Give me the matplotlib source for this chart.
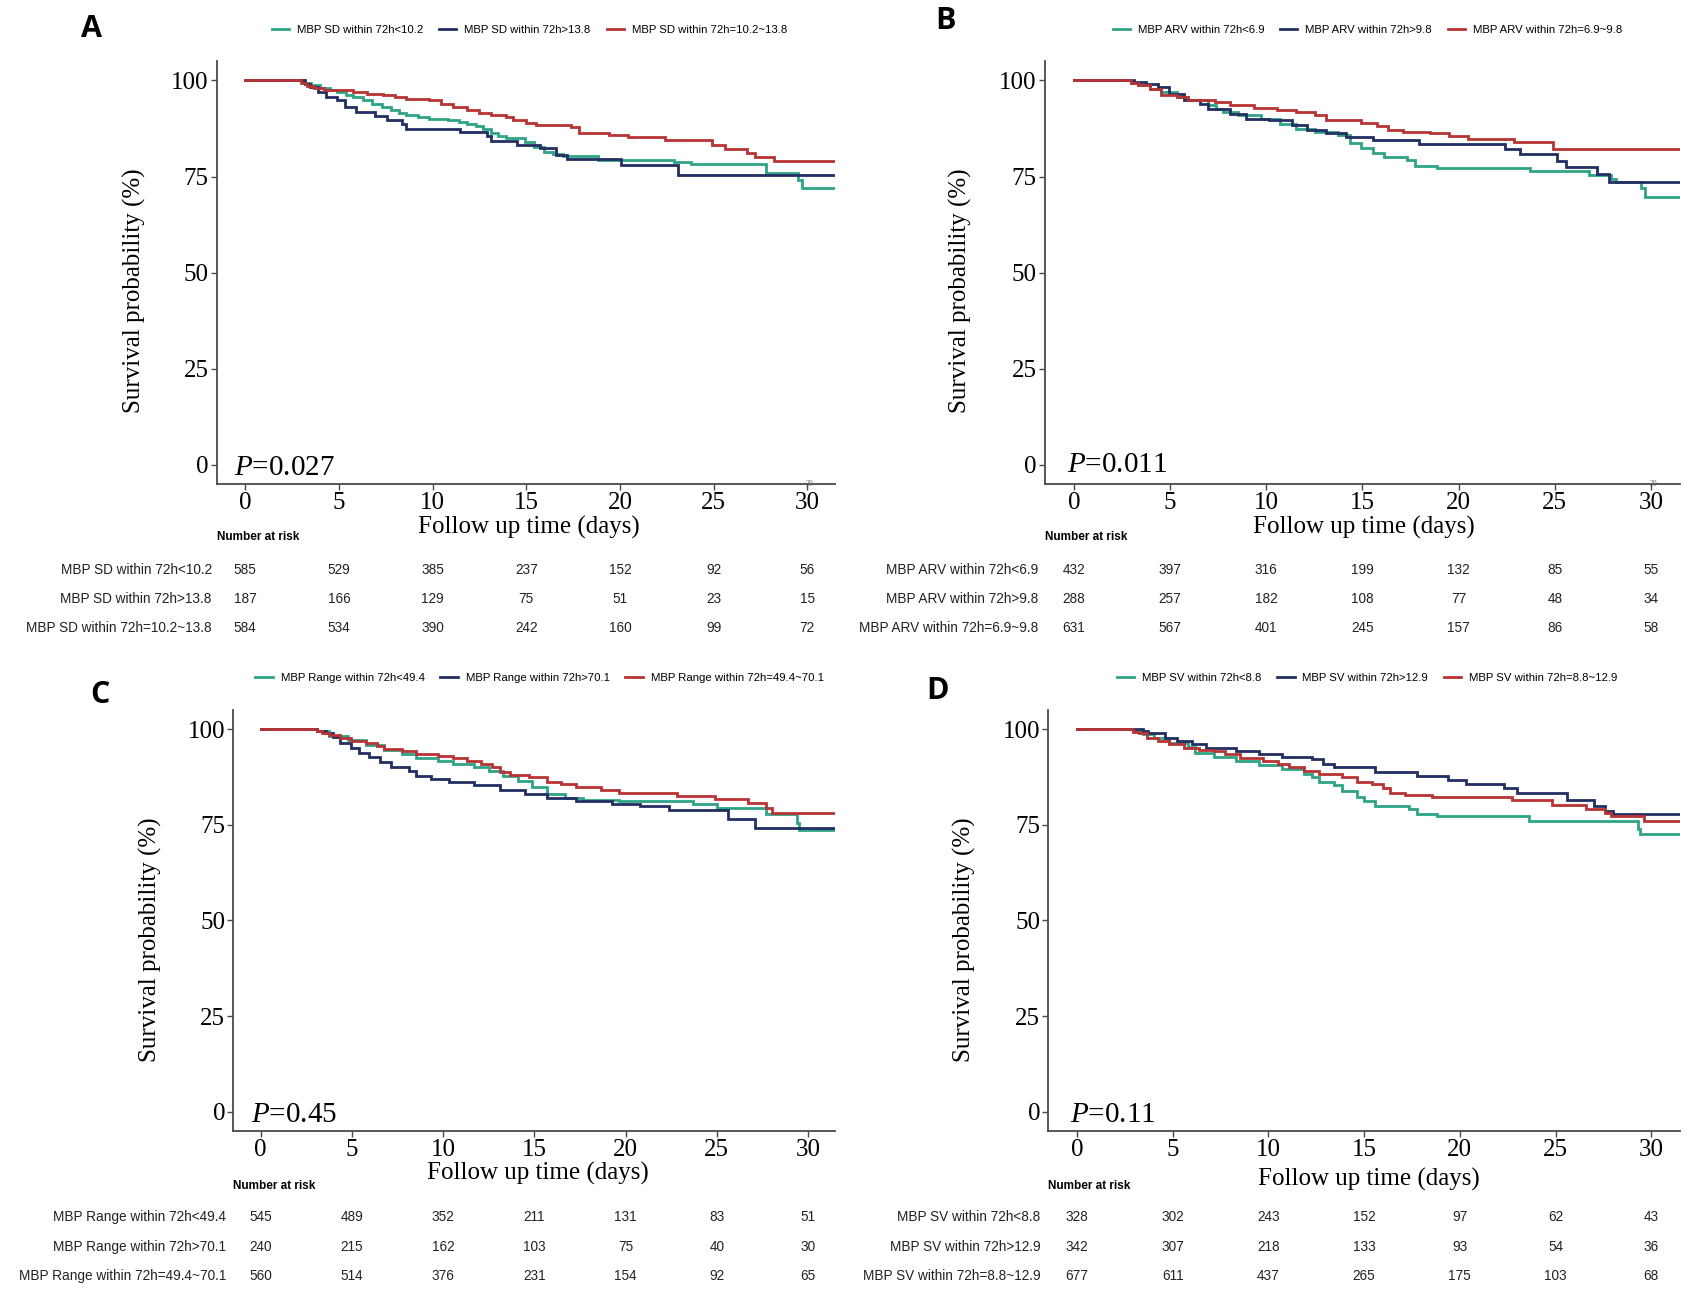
import matplotlib
matplotlib.use("Agg")
import matplotlib.pyplot as plt
from matplotlib.lines import Line2D
from matplotlib.transforms import blended_transform_factory

plt.rcParams['mathtext.fontset'] = 'custom'
plt.rcParams['mathtext.rm'] = 'Liberation Serif'
plt.rcParams['mathtext.it'] = 'Liberation Serif:italic'

SERIF = 'Liberation Serif'
SANS = 'Liberation Sans'

TEAL = '#2fa385'
NAVY = '#232f63'
RED = '#b83333'

# ---------------- Panel A: MBP SD ----------------
A_LOW_T = [0, 3.07, 3.5, 4.0, 4.5, 4.9, 5.4, 5.73, 6.3, 6.75, 7.3, 7.77, 8.2, 8.59, 9.2, 9.82, 10.84, 11.4, 11.86,
           12.3, 12.68, 13.09, 13.5, 13.91, 14.93, 15.4, 15.95, 16.4, 16.97, 18.81, 22.9, 23.8, 27.8, 29.5, 29.7, 31.5]
A_LOW_S = [100, 99.4, 98.7, 98.1, 97.4, 97.0, 96.3, 95.7, 94.8, 94.0, 93.2, 92.4, 91.6, 90.9, 90.4, 90.1, 89.7, 89.2, 88.8,
           88.1, 87.5, 86.4, 85.6, 84.9, 84.1, 82.8, 81.5, 80.9, 80.3, 79.4, 78.7, 78.2, 75.9, 74.1, 72.0, 72.0]
A_HIGH_T = [0, 3.17, 3.48, 3.89, 4.29, 4.91, 5.32, 5.93, 6.95, 7.57, 8.38, 8.59, 11.45, 12.9, 13.09, 14.52, 15.75,
            16.56, 17.18, 20.04, 23.1, 31.5]
A_HIGH_S = [100, 99.1, 98.3, 97.0, 95.7, 94.8, 93.1, 91.8, 90.7, 89.7, 88.8, 87.5, 86.6, 85.5, 84.3, 83.2, 82.3,
            80.6, 79.5, 77.9, 75.4, 75.4]
A_MID_T = [0, 2.97, 3.3, 3.68, 4.2, 4.7, 5.73, 6.5, 7.36, 8.0, 8.59, 9.82, 10.43, 11.1, 11.86, 12.5, 13.09, 13.91,
           14.31, 15.0, 15.54, 17.38, 17.79, 19.43, 20.45, 22.4, 24.9, 25.6, 26.8, 27.2, 28.2, 31.5]
A_MID_S = [100, 99.3, 98.5, 98.0, 97.6, 97.4, 97.0, 96.5, 96.1, 95.6, 95.3, 94.8, 93.8, 93.0, 92.2, 91.5, 90.9, 90.5,
           89.7, 89.0, 88.4, 87.8, 86.4, 85.8, 85.2, 84.5, 83.2, 82.1, 81.2, 80.2, 79.1, 79.1]
A_RISK_LOW = [585, 529, 385, 237, 152, 92, 56]
A_RISK_HIGH = [187, 166, 129, 75, 51, 23, 15]
A_RISK_MID = [584, 534, 390, 242, 160, 99, 72]
A_LABELS = ['MBP SD within 72h<10.2', 'MBP SD within 72h>13.8', 'MBP SD within 72h=10.2~13.8']
A_PVAL = 'P=0.027'

# ---------------- Panel B: MBP ARV ----------------
B_LOW_T = [0, 2.95, 3.35, 3.95, 4.55, 5.35, 5.95, 6.95, 7.4, 7.74, 8.54, 9.74, 10.74, 11.54, 12.53, 13.73, 14.33,
           14.93, 15.53, 16.13, 17.33, 17.72, 18.9, 23.7, 26.8, 27.9, 28.2, 29.5, 29.7, 31.5]
B_LOW_S = [100, 99.3, 98.7, 97.8, 97.0, 95.7, 94.8, 93.5, 92.7, 91.8, 90.9, 90.1, 88.8, 87.5, 86.6, 85.8, 83.6,
           82.3, 81.0, 80.2, 79.3, 77.8, 77.2, 76.5, 75.4, 74.3, 73.5, 72.0, 69.6, 69.6]
B_HIGH_T = [0, 3.15, 3.75, 4.35, 4.95, 5.75, 6.55, 6.95, 8.14, 8.94, 10.14, 11.34, 12.14, 13.13, 14.13, 15.53,
            17.92, 22.4, 23.2, 25.1, 25.6, 27.2, 27.8, 31.5]
B_HIGH_S = [100, 99.6, 99.1, 98.3, 96.6, 94.8, 94.0, 92.7, 91.4, 90.1, 89.7, 88.4, 87.1, 86.2, 85.2, 84.5,
            83.4, 82.1, 80.9, 79.1, 77.4, 75.7, 73.7, 73.7]
B_MID_T = [0, 2.95, 3.35, 3.95, 4.55, 5.35, 5.95, 7.35, 8.14, 9.34, 10.54, 11.54, 12.53, 13.13, 14.93, 15.73,
           16.33, 17.13, 18.5, 19.5, 20.5, 22.9, 24.9, 31.5]
B_MID_S = [100, 99.3, 98.7, 97.8, 96.1, 95.7, 95.0, 94.4, 93.5, 92.9, 92.4, 91.8, 90.9, 89.8, 89.0, 88.1,
           87.1, 86.6, 86.2, 85.5, 84.7, 84.0, 82.1, 82.1]
B_RISK_LOW = [432, 397, 316, 199, 132, 85, 55]
B_RISK_HIGH = [288, 257, 182, 108, 77, 48, 34]
B_RISK_MID = [631, 567, 401, 245, 157, 86, 58]
B_LABELS = ['MBP ARV within 72h<6.9', 'MBP ARV within 72h>9.8', 'MBP ARV within 72h=6.9~9.8']
B_PVAL = 'P=0.011'

# ---------------- Panel C: MBP Range ----------------
C_LOW_T = [0, 3.08, 3.77, 4.76, 5.75, 6.75, 7.74, 8.53, 9.72, 10.52, 11.71, 12.5, 13.29, 14.09, 14.88, 15.67,
           16.67, 17.66, 19.64, 23.7, 25.0, 27.7, 29.4, 29.5, 31.5]
C_LOW_S = [100, 99.4, 98.3, 97.1, 95.9, 94.5, 93.5, 92.4, 91.7, 91.0, 90.2, 89.1, 87.8, 86.5, 84.8, 83.0,
           82.1, 81.5, 81.1, 80.4, 79.3, 77.8, 75.6, 73.6, 73.6]
C_HIGH_T = [0, 3.08, 3.57, 3.97, 4.37, 4.96, 5.36, 5.95, 6.55, 7.14, 8.13, 8.53, 9.33, 10.32, 11.71, 13.1,
            14.48, 15.67, 17.26, 19.25, 20.8, 22.4, 25.6, 27.1, 31.5]
C_HIGH_S = [100, 99.5, 99.1, 98.0, 96.5, 95.2, 93.9, 92.6, 91.3, 90.0, 89.1, 87.8, 86.9, 86.1, 85.4, 84.1,
            83.0, 82.1, 81.3, 80.4, 79.8, 78.8, 76.5, 74.1, 74.1]
C_MID_T = [0, 3.08, 3.37, 3.77, 4.37, 4.96, 5.75, 6.35, 6.75, 7.74, 8.53, 9.72, 10.52, 11.31, 12.1, 12.7, 13.1,
           13.69, 14.68, 15.67, 16.47, 17.26, 18.65, 19.64, 22.8, 24.9, 26.7, 27.7, 28.0, 31.5]
C_MID_S = [100, 99.5, 99.1, 98.5, 97.6, 97.0, 96.3, 95.6, 94.8, 94.3, 93.5, 93.0, 92.4, 91.7, 90.9, 90.0, 88.9,
           88.1, 87.4, 86.3, 85.6, 84.8, 84.1, 83.2, 82.6, 81.7, 80.7, 79.5, 78.2, 78.2]
C_RISK_LOW = [545, 489, 352, 211, 131, 83, 51]
C_RISK_HIGH = [240, 215, 162, 103, 75, 40, 30]
C_RISK_MID = [560, 514, 376, 231, 154, 92, 65]
C_LABELS = ['MBP Range within 72h<49.4', 'MBP Range within 72h>70.1', 'MBP Range within 72h=49.4~70.1']
C_PVAL = 'P=0.45'

# ---------------- Panel D: MBP SV ----------------
D_LOW_T = [0, 2.94, 3.43, 4.02, 4.8, 5.78, 6.18, 7.16, 8.33, 9.51, 10.69, 11.86, 12.25, 12.65, 13.43, 13.82,
           14.61, 15.0, 15.59, 17.35, 17.75, 18.8, 23.6, 29.3, 29.4, 31.5]
D_LOW_S = [100, 99.5, 98.7, 97.6, 96.5, 95.4, 93.9, 92.8, 91.7, 90.7, 89.5, 88.4, 87.4, 86.3, 85.4, 83.9,
           82.3, 81.1, 80.0, 79.1, 77.8, 77.2, 76.0, 74.0, 72.7, 72.7]
D_HIGH_T = [0, 3.43, 3.73, 4.61, 5.2, 5.98, 6.76, 8.33, 9.51, 10.69, 12.25, 12.84, 13.43, 15.59, 17.75, 19.4,
            20.3, 22.3, 23.0, 25.6, 27.0, 27.6, 28.0, 31.5]
D_HIGH_S = [100, 99.6, 98.9, 97.6, 97.0, 96.1, 95.0, 94.3, 93.5, 92.8, 92.2, 90.9, 90.0, 88.7, 87.8, 86.7,
            85.6, 84.6, 83.3, 81.4, 79.8, 78.5, 77.8, 77.8]
D_MID_T = [0, 2.94, 3.24, 3.63, 4.22, 4.8, 5.59, 6.37, 7.16, 7.75, 8.53, 9.71, 10.49, 11.08, 11.86, 12.65, 13.82,
           14.61, 15.39, 15.98, 16.37, 17.16, 18.53, 22.7, 24.8, 26.6, 27.6, 27.9, 29.6, 31.5]
D_MID_S = [100, 99.3, 99.0, 97.8, 96.8, 96.1, 95.2, 94.5, 94.2, 93.5, 92.4, 91.7, 90.9, 90.0, 89.1, 88.2, 87.4,
           86.3, 85.6, 84.6, 83.4, 82.8, 82.3, 81.5, 80.1, 79.2, 78.0, 77.2, 76.0, 76.0]
D_RISK_LOW = [328, 302, 243, 152, 97, 62, 43]
D_RISK_HIGH = [342, 307, 218, 133, 93, 54, 36]
D_RISK_MID = [677, 611, 437, 265, 175, 103, 68]
D_LABELS = ['MBP SV within 72h<8.8', 'MBP SV within 72h>12.9', 'MBP SV within 72h=8.8~12.9']
D_PVAL = 'P=0.11'

RISK_TIMES = [0, 5, 10, 15, 20, 25, 30]
X_TICKS = [0, 5, 10, 15, 20, 25, 30]
Y_TICKS = [0, 25, 50, 75, 100]

fig = plt.figure(figsize=(16.86, 13.04), dpi=100)

panels = [
    dict(letter='A', rect=[0.1288, 0.629, 0.3667, 0.324], letter_xy=(0.054, 0.978),
         curves=[(A_LOW_T, A_LOW_S), (A_HIGH_T, A_HIGH_S), (A_MID_T, A_MID_S)],
         risk=[A_RISK_LOW, A_RISK_HIGH, A_RISK_MID], labels=A_LABELS, pval=A_PVAL, pxy=(-0.6, -0.8),
         legend_xy=(0.314, 0.977), ylab_xy=(0.0797, 0.777), xlab_xy=(0.3135, 0.5955),
         nar_xy=(0.1288, 0.588), rows_y=[0.5631, 0.5408, 0.5186], rowlab_x=0.1256, artifact=True),
    dict(letter='B', rect=[0.6198, 0.629, 0.3766, 0.324], letter_xy=(0.561, 0.984),
         curves=[(B_LOW_T, B_LOW_S), (B_HIGH_T, B_HIGH_S), (B_MID_T, B_MID_S)],
         risk=[B_RISK_LOW, B_RISK_HIGH, B_RISK_MID], labels=B_LABELS, pval=B_PVAL, pxy=(-0.35, -0.2),
         legend_xy=(0.811, 0.977), ylab_xy=(0.5695, 0.777), xlab_xy=(0.809, 0.5955),
         nar_xy=(0.6198, 0.588), rows_y=[0.5631, 0.5408, 0.5186], rowlab_x=0.616, artifact=True),
    dict(letter='C', rect=[0.1384, 0.1327, 0.3571, 0.3228], letter_xy=(0.059, 0.467),
         curves=[(C_LOW_T, C_LOW_S), (C_HIGH_T, C_HIGH_S), (C_MID_T, C_MID_S)],
         risk=[C_RISK_LOW, C_RISK_HIGH, C_RISK_MID], labels=C_LABELS, pval=C_PVAL, pxy=(-0.55, -0.8),
         legend_xy=(0.320, 0.480), ylab_xy=(0.0893, 0.2795), xlab_xy=(0.319, 0.1000),
         nar_xy=(0.1384, 0.0907), rows_y=[0.0668, 0.0437, 0.0214], rowlab_x=0.134, artifact=False),
    dict(letter='D', rect=[0.6218, 0.1327, 0.3746, 0.3228], letter_xy=(0.556, 0.470),
         curves=[(D_LOW_T, D_LOW_S), (D_HIGH_T, D_HIGH_S), (D_MID_T, D_MID_S)],
         risk=[D_RISK_LOW, D_RISK_HIGH, D_RISK_MID], labels=D_LABELS, pval=D_PVAL, pxy=(-0.35, -0.8),
         legend_xy=(0.811, 0.480), ylab_xy=(0.572, 0.2795), xlab_xy=(0.812, 0.0955),
         nar_xy=(0.6218, 0.0907), rows_y=[0.0668, 0.0437, 0.0214], rowlab_x=0.617, artifact=False),
]

colors = [TEAL, NAVY, RED]
SPINE = '#4a4a4a'

for p in panels:
    ax = fig.add_axes(p['rect'])
    for (t, s), c in zip(p['curves'], colors):
        ax.step(t, s, where='post', color=c, lw=2.0, solid_joinstyle='miter')
    ax.set_xlim(-1.5, 31.5)
    ax.set_ylim(-5, 105)
    ax.set_xticks(X_TICKS)
    ax.set_yticks(Y_TICKS)
    for sp in ['top', 'right']:
        ax.spines[sp].set_visible(False)
    for sp in ['left', 'bottom']:
        ax.spines[sp].set_color(SPINE)
        ax.spines[sp].set_linewidth(1.3)
    ax.tick_params(axis='both', length=4, width=1.0, color=SPINE, labelsize=18, pad=2)
    for lab in ax.get_xticklabels() + ax.get_yticklabels():
        lab.set_fontfamily(SERIF)
    ax.text(p['pxy'][0], p['pxy'][1], r'$P$' + p['pval'][1:], fontsize=21, family=SERIF,
            ha='left', va='center')

    fig.text(p['letter_xy'][0], p['letter_xy'][1], p['letter'], fontsize=22, fontweight='bold',
             family='Open Sans', ha='center', va='center')
    fig.text(p['ylab_xy'][0], p['ylab_xy'][1], 'Survival probability (%)', rotation=90,
             fontsize=18, family=SERIF, ha='center', va='center')
    fig.text(p['xlab_xy'][0], p['xlab_xy'][1], 'Follow up time (days)',
             fontsize=18, family=SERIF, ha='center', va='center')

    handles = [Line2D([0], [0], color=c, lw=2.0) for c in colors]
    fig.legend(handles, p['labels'], loc='center', bbox_to_anchor=p['legend_xy'], ncol=3,
               frameon=False, prop={'family': SANS, 'size': 8.2}, handlelength=1.5,
               handletextpad=0.7, columnspacing=1.4)

    fig.text(p['nar_xy'][0], p['nar_xy'][1], 'Number at risk', fontsize=8.5, fontweight='bold',
             family=SANS, ha='left', va='center')
    tr = blended_transform_factory(ax.transData, fig.transFigure)
    for lab, vals, ry in zip(p['labels'], p['risk'], p['rows_y']):
        fig.text(p['rowlab_x'], ry, lab, fontsize=9.8, family=SANS, ha='right', va='center',
                 color='#222222')
        for tt, v in zip(RISK_TIMES, vals):
            ax.text(tt, ry, str(v), transform=tr, fontsize=9.8, family=SANS, ha='center',
                    va='center', color='#222222', clip_on=False)
    if p['artifact']:
        # small faint duplicate "30" label sitting on the axis line, as in the reference
        ax.text(30.1, p['rect'][1] - 0.0005, '30', transform=tr, fontsize=5.5, family=SERIF,
                ha='center', va='center', color='#666666', clip_on=False)

fig.savefig('out.png', dpi=100, facecolor='white')
